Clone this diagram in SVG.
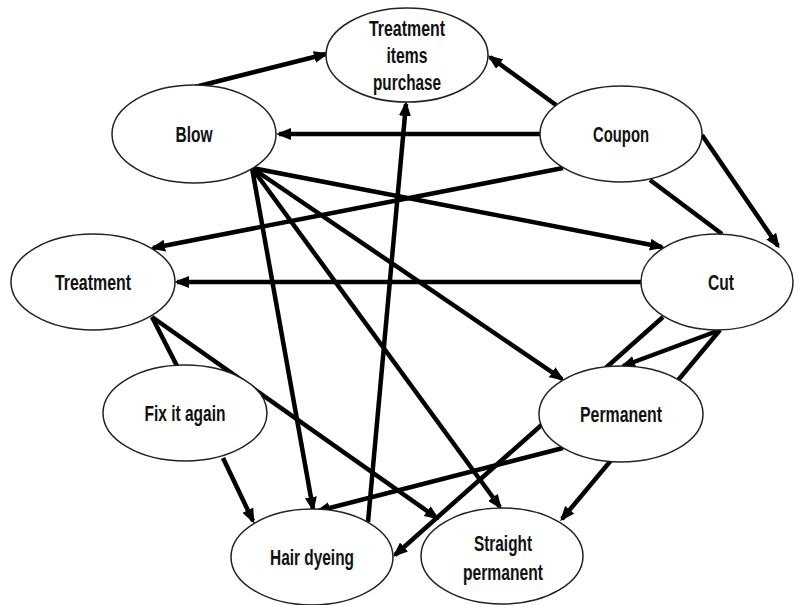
<svg xmlns="http://www.w3.org/2000/svg" width="794" height="605" viewBox="0 0 794 605">
<style>
.e{fill:#fff;stroke:#222;stroke-width:1.5}
.t{font-family:"Liberation Sans",Arial,sans-serif;font-weight:bold;font-size:22px;fill:#111;text-anchor:middle}
.c line{stroke:#000;stroke-width:4.5;fill:none}
.a{marker-end:url(#ah)}
</style>
<defs>
<marker id="ah" markerUnits="userSpaceOnUse" markerWidth="16" markerHeight="12" refX="12" refY="6" orient="auto">
<path d="M0,0 L15,6 L0,12 z" fill="#000"/>
</marker>
</defs>
<rect width="794" height="605" fill="#fff"/>
<g id="connectors" class="c">
<line class="a" x1="195" y1="87" x2="326" y2="54"/>
<line class="a" x1="556" y1="105" x2="490" y2="57"/>
<line class="a" x1="540" y1="134" x2="279" y2="134"/>
<line class="a" x1="563" y1="168" x2="153" y2="248"/>
<line x1="650" y1="180" x2="722" y2="234"/>
<line class="a" x1="702" y1="135" x2="778" y2="246"/>
<line class="a" x1="252" y1="168" x2="662" y2="247"/>
<line class="a" x1="641" y1="282" x2="177" y2="282"/>
<line class="a" x1="252" y1="168" x2="562" y2="379"/>
<line class="a" x1="252" y1="168" x2="500" y2="507"/>
<line class="a" x1="252" y1="168" x2="313" y2="509"/>
<line class="a" x1="368" y1="522" x2="406" y2="104"/>
<line x1="152" y1="317" x2="177" y2="366"/>
<line class="a" x1="152" y1="317" x2="437" y2="518"/>
<line class="a" x1="223" y1="458" x2="253" y2="521"/>
<line class="a" x1="563" y1="448" x2="318" y2="511"/>
<line class="a" x1="663" y1="317" x2="395" y2="555"/>
<line class="a" x1="720" y1="330" x2="623" y2="366"/>
<line class="a" x1="720" y1="330" x2="562" y2="519"/>
</g>
<g id="treatment-items-purchase"><ellipse class="e" cx="407" cy="55" rx="81" ry="47"/><text class="t" x="407" y="36" textLength="76" lengthAdjust="spacingAndGlyphs">Treatment</text><text class="t" x="407" y="63" textLength="41" lengthAdjust="spacingAndGlyphs">items</text><text class="t" x="407" y="90" textLength="68" lengthAdjust="spacingAndGlyphs">purchase</text></g>
<g id="blow"><ellipse class="e" cx="194" cy="134" rx="82" ry="49"/><text class="t" x="194" y="142" textLength="37" lengthAdjust="spacingAndGlyphs">Blow</text></g>
<g id="coupon"><ellipse class="e" cx="621" cy="134" rx="81" ry="48"/><text class="t" x="621" y="142" textLength="56" lengthAdjust="spacingAndGlyphs">Coupon</text></g>
<g id="treatment"><ellipse class="e" cx="93" cy="282" rx="82" ry="48"/><text class="t" x="93" y="290" textLength="76" lengthAdjust="spacingAndGlyphs">Treatment</text></g>
<g id="cut"><ellipse class="e" cx="717" cy="282" rx="76" ry="48"/><text class="t" x="721" y="290" textLength="26" lengthAdjust="spacingAndGlyphs">Cut</text></g>
<g id="fix-it-again"><ellipse class="e" cx="185" cy="413" rx="82" ry="48"/><text class="t" x="185" y="421" textLength="81" lengthAdjust="spacingAndGlyphs">Fix it again</text></g>
<g id="permanent"><ellipse class="e" cx="621" cy="414" rx="82" ry="48"/><text class="t" x="621" y="422" textLength="82" lengthAdjust="spacingAndGlyphs">Permanent</text></g>
<g id="hair-dyeing"><ellipse class="e" cx="312" cy="557" rx="81" ry="48"/><text class="t" x="312" y="565" textLength="84" lengthAdjust="spacingAndGlyphs">Hair dyeing</text></g>
<g id="straight-permanent"><ellipse class="e" cx="502" cy="556" rx="81" ry="48"/><text class="t" x="503" y="551" textLength="58" lengthAdjust="spacingAndGlyphs">Straight</text><text class="t" x="503" y="580" textLength="80" lengthAdjust="spacingAndGlyphs">permanent</text></g>
</svg>
